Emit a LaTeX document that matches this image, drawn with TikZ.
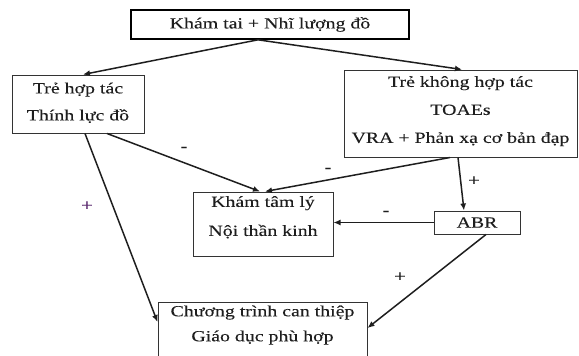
\documentclass[tikz,border=0pt]{standalone}
\usepackage{fontspec}
\setmainfont[FakeStretch=1.28,FakeBold=0.12]{Liberation Serif}
\usetikzlibrary{arrows.meta}
\definecolor{ink}{RGB}{30,30,30}
\definecolor{plum}{RGB}{90,40,110}
\begin{document}
\begin{tikzpicture}[x=1pt,y=-1pt,
  box/.style={draw=black!80, line width=1pt, align=center, inner sep=0pt,
    text=ink, font=\fontsize{15.5}{27}\selectfont},
  conn/.style={draw=ink, line width=1.5pt, -{Latex[length=7pt,width=6pt]}},
  sign/.style={font=\fontsize{16}{16}\selectfont, inner sep=0pt, text=ink}]
\useasboundingbox (0,0) rectangle (579,356);
\clip (0,0) rectangle (579,356);
\node[box, draw=black, line width=1.6pt, minimum width=278pt, minimum height=29pt] (top) at (270,24.5) {Khám tai + Nhĩ lượng đồ};
\node[box, minimum width=132pt, minimum height=58pt] (left) at (78,104) {Trẻ hợp tác\\Thính lực đồ\rule[-5pt]{0pt}{5pt}};
\node[box, font=\fontsize{15.5}{28}\selectfont, minimum width=233pt, minimum height=87pt] (right) at (460.5,113.5) {Trẻ không hợp tác\\TOAEs\\VRA + Phản xạ cơ bản đạp\rule[-8pt]{0pt}{8pt}};
\node[box, font=\fontsize{15.5}{29}\selectfont, minimum width=140pt, minimum height=64pt] (kham) at (263,224) {Khám tâm lý\\Nội thần kinh\rule[-16pt]{0pt}{16pt}};
\node[box, minimum width=86pt, minimum height=23pt] (abr) at (477,222.5) {ABR};
\node[box, font=\fontsize{15.5}{25}\selectfont, anchor=north, inner ysep=3pt, minimum width=209pt] (bottom) at (262.5,302) {Chương trình can thiệp\\Giáo dục phù hợp\rule[-40pt]{0pt}{40pt}};

\draw[conn] ([xshift=-12pt]top.south) -- ([xshift=5pt]left.north);
\draw[conn] ([xshift=-12pt]top.south) -- ([xshift=1.5pt]right.north);
\draw[conn] ([xshift=29pt]left.south) -- ([xshift=-3pt]kham.north);
\draw[conn] ([xshift=-10.5pt]right.south) -- ([xshift=2pt]kham.north);
\draw[conn] ([xshift=-2.5pt]right.south) -- ([xshift=-13pt]abr.north);
\draw[conn] (abr.west) -- (abr.west -| kham.east);
\draw[conn] ([xshift=7pt]left.south) -- ([yshift=-20pt]bottom.north west);
\draw[conn] ([xshift=9pt]abr.south) -- ([yshift=-26pt]bottom.north east);

\node[sign] (m1) at (184,149) {-};
\node[sign] (m2) at (328,170) {-};
\node[sign, text=plum] (p1) at (87,206) {+};
\node[sign] (p2) at (474,181) {+};
\node[sign] (m3) at (386,213) {-};
\node[sign] (p3) at (400,277) {+};
\end{tikzpicture}
\end{document}
